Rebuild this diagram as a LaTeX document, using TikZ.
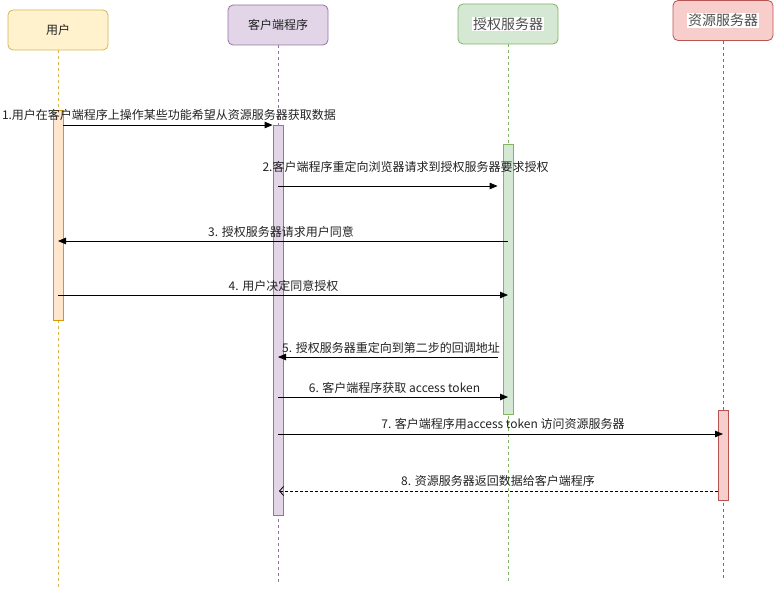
\documentclass[tikz,border=0pt]{standalone}
\usepackage{fontspec}
\setmainfont{Noto Sans CJK SC}
\usetikzlibrary{arrows.meta,calc}
\definecolor{yfill}{HTML}{FFF2CC}\definecolor{ydraw}{HTML}{D6B656}
\definecolor{ofill}{HTML}{FFE6CC}\definecolor{odraw}{HTML}{D79B00}
\definecolor{pfill}{HTML}{E1D5E7}\definecolor{pdraw}{HTML}{9673A6}
\definecolor{gfill}{HTML}{D5E8D4}\definecolor{gdraw}{HTML}{82B366}
\definecolor{rfill}{HTML}{F8CECC}\definecolor{rdraw}{HTML}{B85450}
\definecolor{txt}{HTML}{222222}
\begin{document}
\begin{tikzpicture}[x=1pt,y=-1pt,
  actor/.style={draw, rounded corners=5pt, minimum width=100pt, minimum height=40pt, inner sep=0pt, line width=0.8pt, text=txt, font=\fontsize{12}{14}\selectfont},
  bigtxt/.style={fill=white, inner sep=0.6pt, text=txt!80!white, font=\fontsize{14}{16}\selectfont},
  bar/.style={draw, minimum width=10pt, inner sep=0pt, line width=0.8pt},
  life/.style={dash pattern=on 3pt off 3pt, line width=0.8pt},
  msg/.style={line width=0.8pt, -{Triangle[length=8pt,width=6.5pt]}},
  ret/.style={line width=0.8pt, dash pattern=on 3pt off 2pt, -{Straight Barb[length=4pt,width=9pt,line width=0.8pt]}},
  lbl/.style={inner sep=0pt, text=txt, font=\fontsize{12}{14}\selectfont}]
\useasboundingbox (0,0) rectangle (774,591);
% actors
\node[actor, fill=yfill, draw=ydraw] (user) at (58,30) {用户};
\node[actor, fill=pfill, draw=pdraw] (client) at (278,25) {客户端程序};
\node[actor, fill=gfill, draw=gdraw] (auth) at (508,24) {};
\node[bigtxt] (authtxt) at (auth.center) {授权服务器};
\node[actor, fill=rfill, draw=rdraw] (res) at (723,20.5) {};
\node[bigtxt] (restxt) at (res.center) {资源服务器};
% lifelines
\coordinate (uend) at (58,588);
\coordinate (cend) at (278,583);
\coordinate (aend) at (508,581);
\coordinate (rend) at (723,578);
\draw[life, draw=ydraw] (user.south) -- (uend);
\draw[life, draw=pdraw] (client.south) -- (cend);
\draw[life, draw=gdraw] (auth.south) -- (aend);
\draw[life, draw=rdraw] (res.south) -- (rend);
% activation bars
\node[bar, fill=ofill, draw=odraw, minimum height=210pt] (ubar) at (58,215) {};
\node[bar, fill=pfill, draw=pdraw, minimum height=390pt] (cbar) at (278,320) {};
\node[bar, fill=gfill, draw=gdraw, minimum height=270pt] (abar) at (508,279) {};
\node[bar, fill=rfill, draw=rdraw, minimum height=90pt] (rbar) at (723,455) {};
% message rows
\coordinate (y1) at (0,125);
\coordinate (y2) at (0,186);
\coordinate (y3) at (0,241);
\coordinate (y4) at (0,295);
\coordinate (y5) at (0,357);
\coordinate (y6) at (0,397);
\coordinate (y7) at (0,434);
\coordinate (y8) at (0,491);
% messages
\draw[msg] (ubar.east |- y1) -- (cbar.west |- y1);
\draw[msg, shorten >=5pt] (cbar.center |- y2) -- (abar.west |- y2);
\draw[msg] (abar.center |- y3) -- (ubar.center |- y3);
\draw[msg] (ubar.center |- y4) -- (abar.center |- y4);
\draw[msg, shorten <=5pt] (abar.west |- y5) -- (cbar.center |- y5);
\draw[msg] (cbar.center |- y6) -- (abar.center |- y6);
\draw[msg] (cbar.center |- y7) -- (rbar.center |- y7);
\draw[ret, shorten >=1pt] (rbar.west |- y8) -- (cbar.center |- y8);
% labels
\node[lbl] (l1) at (169,115) {1.用户在客户端程序上操作某些功能希望从资源服务器获取数据};
\node[lbl] (l2) at (405.5,167) {2.客户端程序重定向浏览器请求到授权服务器要求授权};
\node[lbl] (l3) at (281,232) {3. 授权服务器请求用户同意};
\node[lbl] (l4) at (283.5,285.5) {4. 用户决定同意授权};
\node[lbl] (l5) at (391,348) {5. 授权服务器重定向到第二步的回调地址};
\node[lbl] (l6) at (394.5,388) {6. 客户端程序获取 access token};
\node[lbl] (l7) at (503,424) {7. 客户端程序用access token 访问资源服务器};
\node[lbl] (l8) at (498,481) {8. 资源服务器返回数据给客户端程序};
\end{tikzpicture}
\end{document}
